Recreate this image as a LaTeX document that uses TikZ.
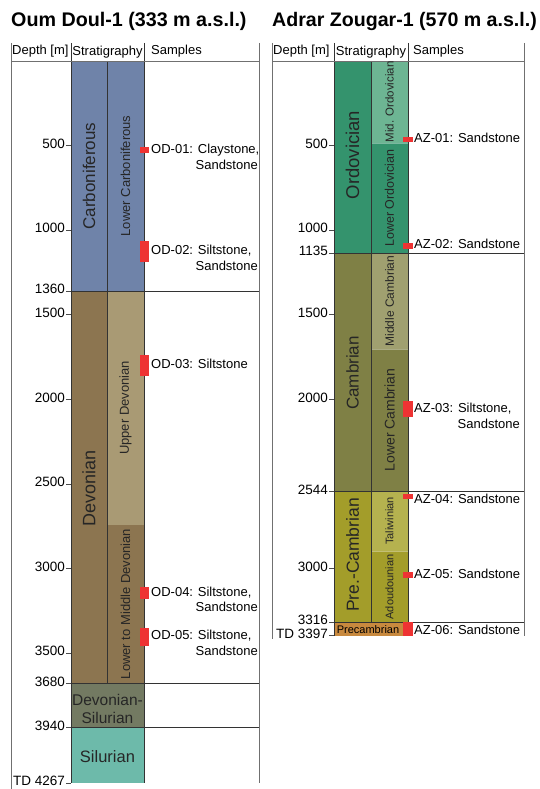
\documentclass[tikz,border=0pt]{standalone}
\usepackage{fontspec}
\setmainfont{Liberation Sans}
\definecolor{carb}{HTML}{6F83A9}
\definecolor{dev}{HTML}{8C7550}
\definecolor{updev}{HTML}{A99A74}
\definecolor{devsil}{HTML}{737A62}
\definecolor{sil}{HTML}{6DBAAA}
\definecolor{ordo}{HTML}{34936D}
\definecolor{midordo}{HTML}{6DB593}
\definecolor{camb}{HTML}{7F8045}
\definecolor{midcamb}{HTML}{A0A070}
\definecolor{precamb}{HTML}{A39D2A}
\definecolor{taliw}{HTML}{B5B24F}
\definecolor{precambrian}{HTML}{C8893E}
\definecolor{sample}{HTML}{EE3333}
\definecolor{frame}{HTML}{707070}
\newcommand{\Y}[1]{\fpeval{61+0.1692*(#1)}}
\begin{document}
\begin{tikzpicture}[x=1pt,y=-1pt,
  every node/.style={inner sep=0pt, text=black},
  ttl/.style={font=\fontsize{19.7}{24}\selectfont\bfseries, anchor=base west},
  hdr/.style={font=\fontsize{13}{15}\selectfont, anchor=mid west},
  dlab/.style={font=\fontsize{13.5}{15}\selectfont, anchor=mid east},
  slab/.style={font=\fontsize{13}{15}\selectfont, anchor=mid west},
  slab2/.style={font=\fontsize{13}{15}\selectfont, anchor=mid east},
  bigl/.style={font=\fontsize{17}{19}\selectfont, rotate=90, text=black!85},
  smll/.style={font=\fontsize{12.5}{15}\selectfont, rotate=90, text=black!85},
  tinyl/.style={font=\fontsize{11}{13}\selectfont, rotate=90, text=black!85},
  framel/.style={draw=frame, line width=0.9pt},
  coll/.style={draw=black!80, line width=0.8pt},
  tickl/.style={draw=black!70, line width=0.8pt},
  faint/.style={draw=white, draw opacity=0.35, line width=0.7pt},
  smp/.style={fill=sample}]
\useasboundingbox (0,0) rectangle (539,789);

% ================= LEFT: Oum Doul-1 =================
\node[ttl] (titleL) at (11,27) {Oum Doul-1 (333 m a.s.l.)};
% fills
\fill[carb] (71,61) rectangle (144,{\Y{1360}});
\fill[dev] (71,{\Y{1360}}) rectangle (107,{\Y{3680}});
\fill[updev] (107,{\Y{1360}}) rectangle (144,{\Y{2740}});
\fill[dev] (107,{\Y{2740}}) rectangle (144,{\Y{3680}});
\fill[devsil] (71,{\Y{3680}}) rectangle (144,{\Y{3940}});
\fill[sil] (71,{\Y{3940}}) rectangle (144,{\Y{4267}});
% column lines
\draw[coll] (107,61) -- (107,{\Y{3680}});
\draw[coll] (71,43) -- (71,{\Y{4267}});
\draw[coll] (144,43) -- (144,{\Y{4267}});
\foreach \d in {1360,3680,3940} \draw[coll] (71,{\Y{\d}}) -- (259,{\Y{\d}});
% frame
\draw[framel] (11,43) -- (11,789);
\draw[framel] (259,43) -- (259,{\Y{4267}});
\draw[framel] (11,61) -- (259,61);
% header
\node[hdr] (hL1) at (12,52) {Depth [m]};
\node[font=\fontsize{13}{15}\selectfont] (hL2) at (107.5,52.5) {Stratigraphy};
\node[hdr] (hL3) at (151,52) {Samples};
% ticks
\foreach \d in {500,1000,1360,1500,2000,2500,3000,3500,3680,3940} {
  \draw[tickl] (66,{\Y{\d}}) -- (71,{\Y{\d}});
  \node[dlab] (dL\d) at (65,{\Y{\d}}) {\d};
}
\draw[tickl] (66,{\Y{4267}}) -- (71,{\Y{4267}});
\node[dlab] (dLTD) at (65,{\Y{4267}}) {TD 4267};
% strat labels
\node[bigl] (sCarb) at (89,176) {Carboniferous};
\node[smll,font=\fontsize{13}{15}\selectfont] (sLCarb) at (125.5,176) {Lower Carboniferous};
\node[bigl,font=\fontsize{18}{20}\selectfont] (sDev) at (89,488) {Devonian};
\node[smll,font=\fontsize{13}{15}\selectfont] (sUDev) at (125.5,408) {Upper Devonian};
\node[smll,font=\fontsize{13}{15}\selectfont] (sLMDev) at (125.5,604) {Lower to Middle Devonian};
\node[font=\fontsize{15.5}{18}\selectfont, align=center, text=black!85] (sDevSil) at (107.5,709) {Devonian-\\Silurian};
\node[font=\fontsize{16.5}{18}\selectfont, text=black!85] (sSil) at (107.5,757) {Silurian};
% samples
\fill[smp] (140,147) rectangle (149,153);
\node[slab] (od1) at (151,151) {OD-01: Claystone,};
\node[slab2] (od1b) at (258,167) {Sandstone};
\fill[smp] (140,241) rectangle (149,262);
\node[slab] (od2) at (151,252) {OD-02: Siltstone,};
\node[slab2] (od2b) at (258,268) {Sandstone};
\fill[smp] (140,355) rectangle (149,376);
\node[slab] (od3) at (151,366) {OD-03: Siltstone};
\fill[smp] (140,587) rectangle (149,599);
\node[slab] (od4) at (151,594) {OD-04: Siltstone,};
\node[slab2] (od4b) at (258,609) {Sandstone};
\fill[smp] (140,628) rectangle (149,646);
\node[slab] (od5) at (151,637) {OD-05: Siltstone,};
\node[slab2] (od5b) at (258,653) {Sandstone};

% ================= RIGHT: Adrar Zougar-1 =================
\node[ttl,font=\fontsize{19.6}{24}\selectfont\bfseries] (titleR) at (272,27) {Adrar Zougar-1 (570 m a.s.l.)};
\fill[ordo] (334,61) rectangle (371,{\Y{1135}});
\fill[midordo] (371,61) rectangle (408,{\Y{485}});
\fill[ordo] (371,{\Y{485}}) rectangle (408,{\Y{1135}});
\fill[camb] (334,{\Y{1135}}) rectangle (371,{\Y{2544}});
\fill[midcamb] (371,{\Y{1135}}) rectangle (408,{\Y{1702}});
\fill[camb] (371,{\Y{1702}}) rectangle (408,{\Y{2544}});
\fill[precamb] (334,{\Y{2544}}) rectangle (371,{\Y{3316}});
\fill[taliw] (371,{\Y{2544}}) rectangle (408,{\Y{2896}});
\fill[precamb] (371,{\Y{2896}}) rectangle (408,{\Y{3316}});
\fill[precambrian] (334,{\Y{3316}}) rectangle (408,{\Y{3397}});
\draw[faint] (371,{\Y{485}}) -- (408,{\Y{485}});
\draw[faint] (371,{\Y{1702}}) -- (408,{\Y{1702}});
\draw[faint] (371,{\Y{2896}}) -- (408,{\Y{2896}});
\draw[coll] (371,61) -- (371,{\Y{3316}});
\draw[coll] (334,43) -- (334,{\Y{3397}});
\draw[coll] (408,43) -- (408,{\Y{3397}});
\foreach \d in {1135,2544,3316} \draw[coll] (334,{\Y{\d}}) -- (524,{\Y{\d}});
\draw[framel] (272,43) -- (272,639);
\draw[framel] (524,43) -- (524,{\Y{3397}});
\draw[framel] (272,61) -- (524,61);
\node[hdr] (hR1) at (273,52) {Depth [m]};
\node[font=\fontsize{13}{15}\selectfont] (hR2) at (371,52.5) {Stratigraphy};
\node[hdr] (hR3) at (413,52) {Samples};
\foreach \d in {500,1000,1135,1500,2000,2544,3000,3316} {
  \draw[tickl] (329,{\Y{\d}}) -- (334,{\Y{\d}});
  \node[dlab] (dR\d) at (328,{\Y{\d}}) {\d};
}
\draw[tickl] (329,{\Y{3397}}) -- (334,{\Y{3397}});
\node[dlab] (dRTD) at (328,{\Y{3397}}) {TD 3397};
% strat labels
\node[bigl,font=\fontsize{18.5}{20}\selectfont] (sOrd) at (352.5,155) {Ordovician};
\node[tinyl,font=\fontsize{11.5}{13}\selectfont] (sMOrd) at (389.5,102) {Mid. Ordovician};
\node[smll] (sLOrd) at (389.5,198) {Lower Ordovician};
\node[bigl,font=\fontsize{17}{19}\selectfont] (sCamb) at (352.5,373) {Cambrian};
\node[smll,font=\fontsize{12}{14}\selectfont] (sMCamb) at (389.5,301) {Middle Cambrian};
\node[smll,font=\fontsize{14}{16}\selectfont] (sLCamb) at (389.5,420) {Lower Cambrian};
\node[bigl,font=\fontsize{17.5}{19}\selectfont] (sPreC) at (352.5,555) {Pre.-Cambrian};
\node[tinyl] (sTal) at (389.5,521) {Taliwinian};
\node[tinyl] (sAdo) at (389.5,587) {Adoudounian};
\node[font=\fontsize{11}{13}\selectfont] (sPrecam) at (368,630) {Precambrian};
% samples
\fill[smp] (403,137) rectangle (413,142);
\node[slab] (az1) at (414,140) {AZ-01: Sandstone};
\fill[smp] (403,243) rectangle (413,249);
\node[slab] (az2) at (414,246) {AZ-02: Sandstone};
\fill[smp] (403,401) rectangle (413,417);
\node[slab] (az3) at (414,410) {AZ-03: Siltstone,};
\node[slab2] (az3b) at (520,426) {Sandstone};
\fill[smp] (403,494) rectangle (413,499);
\node[slab] (az4) at (414,501) {AZ-04: Sandstone};
\fill[smp] (403,572) rectangle (413,578);
\node[slab] (az5) at (414,576) {AZ-05: Sandstone};
\fill[smp] (403,{\Y{3316}}) rectangle (413,{\Y{3397}});
\node[slab] (az6) at (414,632) {AZ-06: Sandstone};
\end{tikzpicture}
\end{document}
